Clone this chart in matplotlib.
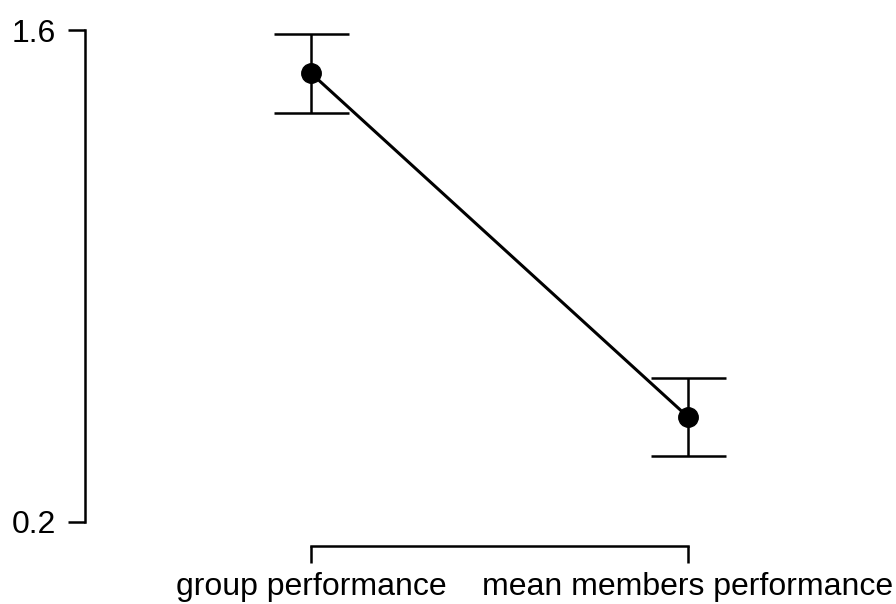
import matplotlib.pyplot as plt
import numpy as np

plt.rcParams['font.family'] = ['Liberation Sans', 'DejaVu Sans']

# data
conditions = ['group performance', 'mean members performance']
means = [1.477, 0.499]
ci_lower = [1.365, 0.388]
ci_upper = [1.588, 0.609]
y_ticks = [0.2, 1.6]

W, H = 896, 604
fig = plt.figure(figsize=(W / 100, H / 100), dpi=100)
# axes box in pixels: left 85, right 896, top 10, bottom 546
ax = fig.add_axes([85 / W, (H - 546) / H, (W - 85) / W, (546 - 10) / H])

x = np.arange(len(conditions))
means = np.array(means)
yerr = [means - np.array(ci_lower), np.array(ci_upper) - means]

ax.plot(x, means, color='black', lw=2.2, zorder=2)
ax.errorbar(x, means, yerr=yerr, fmt='none', ecolor='black', elinewidth=1.8,
            capsize=27, capthick=1.8, zorder=1)
ax.plot(x, means, 'o', color='black', ms=14, zorder=3)

ax.set_xlim(-0.6, 1.552)
ax.set_ylim(0.1317, 1.657)

ax.set_xticks(x)
ax.set_xticklabels(conditions)
ax.set_yticks(y_ticks)
ax.set_yticklabels([f'{t:.1f}' for t in y_ticks])

for side in ['top', 'right']:
    ax.spines[side].set_visible(False)
ax.spines['left'].set_bounds(0.2, 1.6)
ax.spines['bottom'].set_bounds(0, 1)
for side in ['left', 'bottom']:
    ax.spines[side].set_linewidth(1.8)

ax.tick_params(axis='both', direction='out', length=12, width=1.8,
               labelsize=23)
ax.tick_params(axis='y', pad=9)
ax.tick_params(axis='x', pad=7)

fig.savefig('out.png', dpi=100)
